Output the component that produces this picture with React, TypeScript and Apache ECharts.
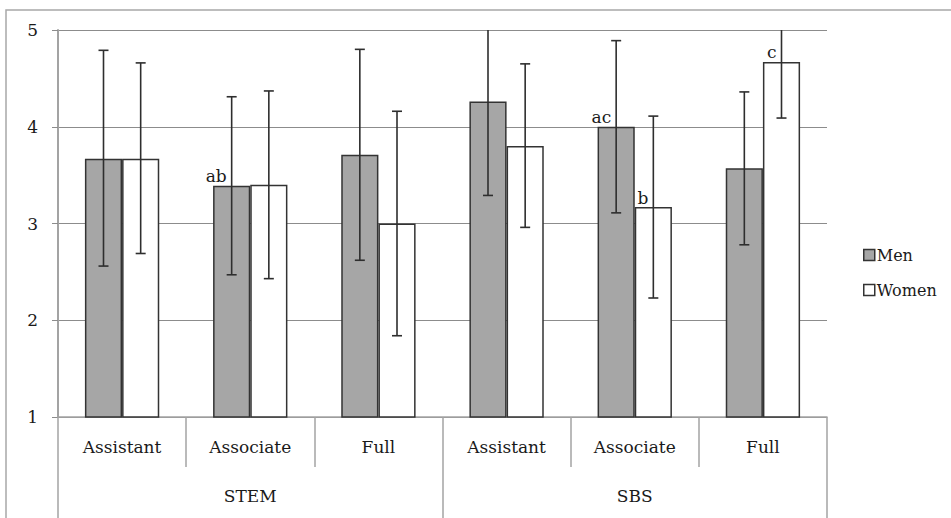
import React, { useEffect, useRef } from "react";
import * as echarts from "echarts";

const ranks = ["Assistant", "Associate", "Full", "Assistant", "Associate", "Full"];
const fields = ["STEM", "SBS"];
const yTicks = [1, 2, 3, 4, 5];

const menValues = [3.67, 3.39, 3.71, 4.26, 4.0, 3.57];
const womenValues = [3.67, 3.4, 3.0, 3.8, 3.17, 4.67];

const menLow = [2.56, 2.47, 2.62, 3.29, 3.11, 2.78];
const menHigh = [4.79, 4.31, 4.8, 5.23, 4.89, 4.36];
const womenLow = [2.69, 2.43, 1.84, 2.96, 2.23, 4.09];
const womenHigh = [4.66, 4.37, 4.16, 4.65, 4.11, 5.25];

const menLabels = ["", "ab", "", "", "ac", ""];
const womenLabels = ["", "", "", "", "b", "c"];

const FONT = "DejaVu Serif";
const BAR_FRAC = 0.29;

export default function App() {
  const ref = useRef<HTMLDivElement>(null);

  useEffect(() => {
    if (!ref.current) return;
    const chart = echarts.init(ref.current, undefined, { renderer: "svg" });

    const barData = (vals: number[], labels: string[]) =>
      vals.map((v, i) =>
        labels[i]
          ? {
              value: v,
              label: {
                show: true,
                formatter: labels[i],
                position: "top",
                align: "right",
                distance: 1,
                offset: [-5, 0],
                fontFamily: FONT,
                fontSize: 17,
                color: "#1a1a1a",
              },
            }
          : v
      );

    const errRender = (side: number) => (params: any, api: any) => {
      const idx = api.value(0);
      const lo = api.coord([idx, api.value(1)]);
      const hi = api.coord([idx, api.value(2)]);
      const bw = api.size([1, 0])[0];
      const x = lo[0] + (side * bw * BAR_FRAC) / 2;
      const cap = 5;
      const style = { stroke: "#2e2e2e", lineWidth: 1.6 };
      return {
        type: "group",
        children: [
          { type: "line", shape: { x1: x, y1: lo[1], x2: x, y2: hi[1] }, style },
          { type: "line", shape: { x1: x - cap, y1: lo[1], x2: x + cap, y2: lo[1] }, style },
          { type: "line", shape: { x1: x - cap, y1: hi[1], x2: x + cap, y2: hi[1] }, style },
        ],
      };
    };

    const gray = "#a3a3a3";

    chart.setOption({
      animation: false,
      backgroundColor: "#ffffff",
      graphic: [
        {
          type: "rect",
          z: -10,
          shape: { x: 6, y: 10, width: 1000, height: 600 },
          style: { fill: "none", stroke: "#a8a8a8", lineWidth: 1.5 },
        },
      ],
      grid: { left: 58, right: 124, top: 30, bottom: 101 },
      legend: {
        data: ["Men", "Women"],
        orient: "vertical",
        left: 858,
        top: 242,
        itemWidth: 11,
        itemHeight: 11,
        itemGap: 19,
        icon: "rect",
        textStyle: { fontFamily: FONT, fontSize: 16, color: "#1a1a1a", padding: [0, 0, 0, -3] },
        itemStyle: { borderColor: "#333", borderWidth: 1.5 },
      },
      xAxis: [
        {
          type: "category",
          data: ranks,
          position: "bottom",
          axisLine: { show: true, lineStyle: { color: gray, width: 1.5 } },
          axisTick: { show: true, interval: 0, length: 50, lineStyle: { color: gray, width: 1.5 } },
          axisLabel: { interval: 0, margin: 21, fontFamily: FONT, fontSize: 17, color: "#1a1a1a" },
          splitLine: { show: false },
        },
        {
          type: "category",
          data: fields,
          position: "bottom",
          offset: 50,
          axisLine: { show: false },
          axisTick: { show: true, interval: 0, length: 70, lineStyle: { color: gray, width: 1.5 } },
          axisLabel: { interval: 0, margin: 20, fontFamily: FONT, fontSize: 17, color: "#1a1a1a" },
          splitLine: { show: false },
        },
      ],
      yAxis: {
        type: "value",
        min: yTicks[0],
        max: yTicks[yTicks.length - 1],
        interval: 1,
        axisLine: { show: true, lineStyle: { color: gray, width: 2 } },
        axisTick: { show: true, length: 6, lineStyle: { color: "#8c8c8c", width: 1 } },
        axisLabel: { margin: 20, fontFamily: FONT, fontSize: 17, color: "#1a1a1a" },
        splitLine: { show: true, lineStyle: { color: "#8c8c8c", width: 1 } },
      },
      series: [
        {
          name: "Men",
          type: "bar",
          xAxisIndex: 0,
          barWidth: `${BAR_FRAC * 100}%`,
          barGap: "0%",
          data: barData(menValues, menLabels),
          itemStyle: { color: "#a6a6a6", borderColor: "#333", borderWidth: 1.5 },
          z: 2,
        },
        {
          name: "Women",
          type: "bar",
          xAxisIndex: 0,
          barWidth: `${BAR_FRAC * 100}%`,
          barGap: "0%",
          data: barData(womenValues, womenLabels),
          itemStyle: { color: "#ffffff", borderColor: "#333", borderWidth: 1.5 },
          z: 2,
        },
        {
          type: "custom",
          xAxisIndex: 0,
          clip: true,
          z: 5,
          renderItem: errRender(-1),
          encode: { x: 0, y: [1, 2] },
          data: menValues.map((_, i) => [i, menLow[i], menHigh[i]]),
        },
        {
          type: "custom",
          xAxisIndex: 0,
          clip: true,
          z: 5,
          renderItem: errRender(1),
          encode: { x: 0, y: [1, 2] },
          data: womenValues.map((_, i) => [i, womenLow[i], womenHigh[i]]),
        },
      ],
    });

    return () => chart.dispose();
  }, []);

  return (
    <div
      ref={ref}
      style={{ position: "fixed", left: 0, top: 0, width: 951, height: 518, background: "#fff" }}
    />
  );
}
